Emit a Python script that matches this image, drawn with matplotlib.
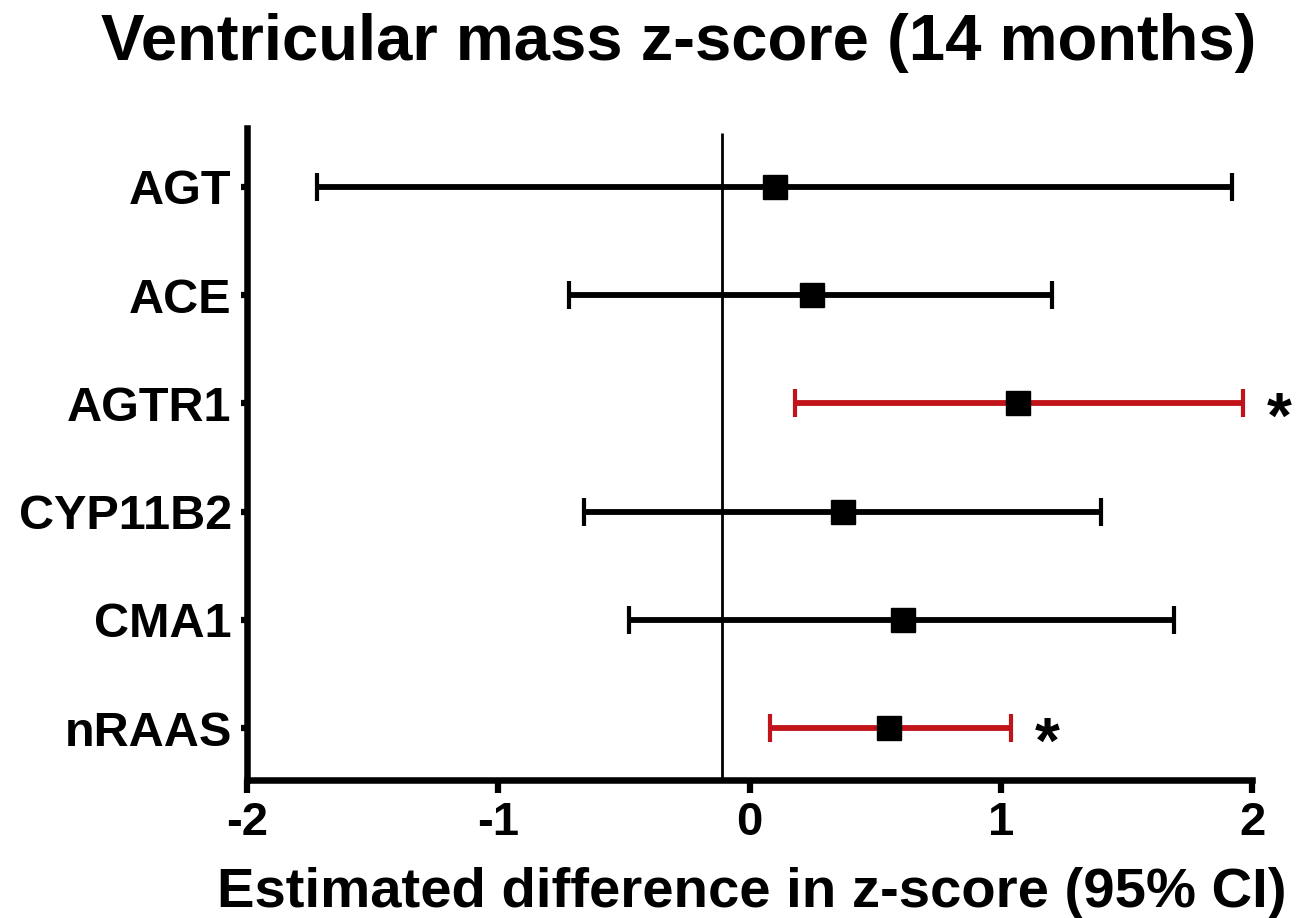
import matplotlib
matplotlib.use("Agg")
import matplotlib.pyplot as plt

categories = ["AGT", "ACE", "AGTR1", "CYP11B2", "CMA1", "nRAAS"]
estimate = [0.10, 0.25, 1.07, 0.37, 0.61, 0.555]
ci_low = [-1.72, -0.72, 0.18, -0.66, -0.48, 0.08]
ci_high = [1.92, 1.205, 1.965, 1.40, 1.69, 1.04]
significant = [False, False, True, False, False, True]
ref_line = -0.11
xticks = [-2, -1, 0, 1, 2]

plt.rcParams['font.family'] = ['Liberation Sans', 'DejaVu Sans']
plt.rcParams['font.weight'] = 'bold'

fig = plt.figure(figsize=(13.12, 9.18), dpi=100)
ax = fig.add_axes([0.1883, 0.1503, 0.766, 0.7103])

n = len(categories)
ypos = list(range(n, 0, -1))
red = '#c0141a'

ax.plot([ref_line, ref_line], [0.52, 6.50], color='black', lw=2.0,
        solid_capstyle='butt', zorder=1)

for y, est, lo, hi, sig in zip(ypos, estimate, ci_low, ci_high, significant):
    col = red if sig else 'black'
    ax.errorbar([est], [y], xerr=[[est - lo], [hi - est]], fmt='none',
                ecolor=col, elinewidth=4.2, capsize=10, capthick=3.0, zorder=2)
    ax.plot([est], [y], marker='s', ms=17, color='black', zorder=3)
    if sig:
        ax.annotate('*', xy=(hi, y), xytext=(17, -25), textcoords='offset points',
                    ha='left', va='baseline', fontsize=46, fontweight='bold')

ax.set_xlim(-2, 2)
ax.set_ylim(0.52, 6.545)
ax.set_xticks(xticks)
ax.set_xticklabels([str(t) for t in xticks])
ax.set_yticks(ypos)
ax.set_yticklabels(categories)

for side in ['top', 'right']:
    ax.spines[side].set_visible(False)
for side in ['left', 'bottom']:
    ax.spines[side].set_linewidth(4.7)
    ax.spines[side].set_capstyle('projecting')

ax.tick_params(axis='x', length=9.5, width=4.5, labelsize=34, pad=5.5)
ax.tick_params(axis='y', length=4, width=4.5, labelsize=35, pad=7)
for lab in ax.get_xticklabels() + ax.get_yticklabels():
    lab.set_fontweight('bold')

fig.text(0.573, 1 - 907 / 918, 'Estimated difference in z-score (95% CI)',
         ha='center', va='baseline', fontsize=40.5, fontweight='bold')
fig.text(0.5175, 1 - 60 / 918, 'Ventricular mass z-score (14 months)', ha='center',
         va='baseline', fontsize=47, fontweight='bold')

fig.savefig('out.png', dpi=100)
